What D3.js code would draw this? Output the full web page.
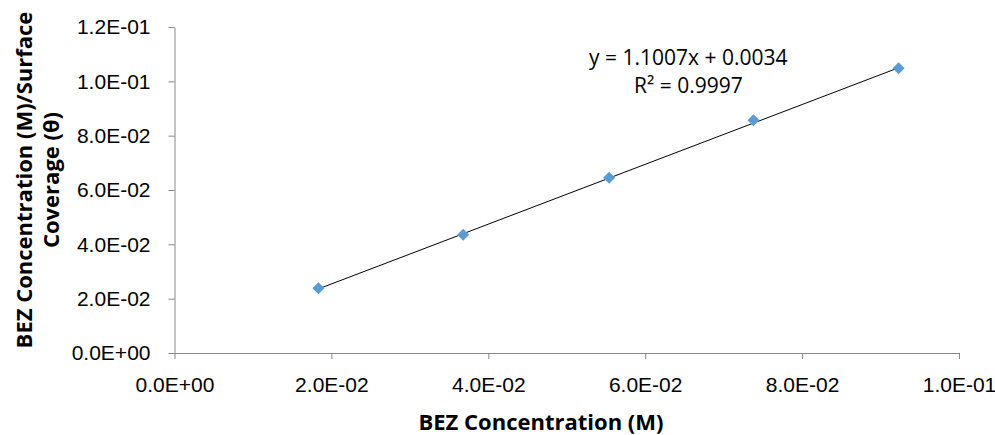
<!DOCTYPE html>
<html>
<head>
<meta charset="utf-8">
<script src="https://cdn.jsdelivr.net/npm/d3@7"></script>
<style>
  body { margin: 0; background: #fff; }
  svg { display: block; font-family: 'Open Sans', sans-serif; }
  .axis path, .axis line { stroke: #868686; }
  .axis text { fill: #000; font-size: 21px; }
  .title { font-weight: bold; font-size: 22px; fill: #000; }
  .eq { font-size: 21px; fill: #000; }
</style>
</head>
<body>
<svg id="chart" width="995" height="435"></svg>
<script>
const concentration = [0.01835, 0.0368, 0.0554, 0.0738, 0.0923]
const ratio = [0.0238, 0.0435, 0.0645, 0.0857, 0.1048]
const xTicks = [0, 0.02, 0.04, 0.06, 0.08, 0.1]
const yTicks = [0, 0.02, 0.04, 0.06, 0.08, 0.1, 0.12]
const slope = 1.1007
const intercept = 0.0034
const eqLines = ['y = 1.1007x + 0.0034', 'R² = 0.9997']

const svg = d3.select('#chart')
const margins = { top: 27, right: 36, bottom: 82, left: 174.5 }
const width = 995 - margins.left - margins.right
const height = 435 - margins.top - margins.bottom

const g = svg.append('g').attr('transform', `translate(${margins.left}, ${margins.top})`)

const x = d3.scaleLinear().domain([0, 0.1]).range([0, width])
const y = d3.scaleLinear().domain([0, 0.12]).range([height, 0])

// excel style scientific labels, e.g. 2.0E-02
const fmt = (d) => {
  const s = d3.format('.1e')(d).toUpperCase()
  const [m, e] = s.split('E')
  const sign = e[0] === '-' ? '-' : '+'
  const n = e.replace(/[+-]/, '').padStart(2, '0')
  return `${m}E${sign}${n}`
}

g.append('g')
  .attr('class', 'axis axis--x')
  .attr('transform', `translate(0, ${height})`)
  .call(d3.axisBottom(x).tickValues(xTicks).tickFormat(fmt).tickSize(6).tickSizeOuter(0))
  .call((a) => a.selectAll('text').attr('dy', '1.42em'))

g.append('g')
  .attr('class', 'axis axis--y')
  .call(d3.axisLeft(y).tickValues(yTicks).tickFormat(fmt).tickSize(6).tickSizeOuter(0))
  .call((a) => a.selectAll('text').attr('x', -24))

// trendline
const xs = d3.extent(concentration)
g.append('line')
  .attr('x1', x(xs[0])).attr('y1', y(slope * xs[0] + intercept))
  .attr('x2', x(xs[1])).attr('y2', y(slope * xs[1] + intercept))
  .attr('stroke', '#000').attr('stroke-width', 1)

const pts = concentration.map((c, i) => ({ c, r: ratio[i] }))
g.selectAll('.pt')
  .data(pts)
  .enter()
  .append('path')
  .attr('class', 'pt')
  .attr('d', 'M0,-6L6,0L0,6L-6,0Z')
  .attr('transform', (d) => `translate(${x(d.c)}, ${y(d.r)})`)
  .attr('fill', '#5b9bd5')

g.selectAll('.eq')
  .data(eqLines)
  .enter()
  .append('text')
  .attr('class', 'eq')
  .attr('x', x(0.0655))
  .attr('y', (d, i) => 38 + i * 28)
  .attr('text-anchor', 'middle')
  .text((d) => d)

svg.append('text')
  .attr('class', 'title')
  .attr('x', 541)
  .attr('y', 430)
  .attr('text-anchor', 'middle')
  .text('BEZ Concentration (M)')

const yTitle = svg.append('text')
  .attr('class', 'title')
  .attr('transform', 'translate(0, 180) rotate(-90)')
  .attr('text-anchor', 'middle')
yTitle.append('tspan').attr('x', 0).attr('y', 32).text('BEZ Concentration (M)/Surface')
yTitle.append('tspan').attr('x', 0).attr('y', 59).text('Coverage (θ)')
</script>
</body>
</html>
